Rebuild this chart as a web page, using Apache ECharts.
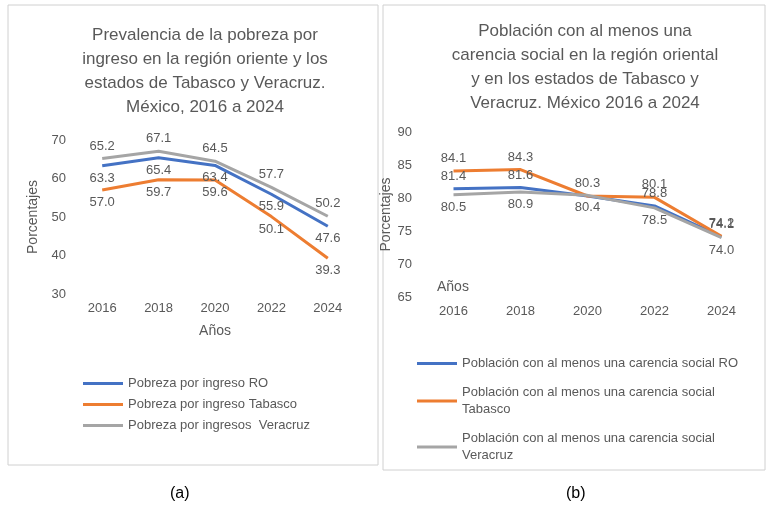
<!DOCTYPE html>
<html>
<head>
<meta charset="utf-8">
<script src="https://cdn.jsdelivr.net/npm/echarts@6/dist/echarts.min.js"></script>
<style>html,body{margin:0;background:#fff}#c{width:775px;height:510px}</style>
</head>
<body>
<div id="c"></div>
<script>
const years = ['2016', '2018', '2020', '2022', '2024'];
const pobreza = {
  ro: [63.3, 65.4, 63.4, 55.9, 47.6],
  tab: [57.0, 59.7, 59.6, 50.1, 39.3],
  ver: [65.2, 67.1, 64.5, 57.7, 50.2]
};
const carencia = {
  ro: [81.4, 81.6, 80.3, 78.8, 74.1],
  tab: [84.1, 84.3, 80.3, 80.1, 74.2],
  ver: [80.5, 80.9, 80.4, 78.5, 74.0]
};
const font = 'Liberation Sans';
const gray = '#595959';
const colors = { ro: '#4472C4', tab: '#ED7D31', ver: '#A5A5A5' };

function line(name, data, color, xi, pos, hideIdx) {
  return {
    name: name, type: 'line', xAxisIndex: xi, yAxisIndex: xi,
    data: data.map((v, i) => (hideIdx === i ? { value: v, label: { show: false } } : v)),
    showSymbol: true, symbol: 'circle', symbolSize: 0, lineStyle: { width: 3, color: color },
    itemStyle: { color: color },
    label: { show: true, position: pos, distance: 6, color: gray, fontSize: 13, fontFamily: font, formatter: p => p.value.toFixed(1) }
  };
}

const axisCommon = {
  axisLine: { show: false }, axisTick: { show: false },
  axisLabel: { color: gray, fontSize: 13, fontFamily: font },
  splitLine: { show: false }
};

const chart = echarts.init(document.getElementById('c'));
chart.setOption({
  animation: false,
  title: [
    { text: 'Prevalencia de la pobreza por\ningreso en la región oriente y los\nestados de Tabasco y Veracruz.\nMéxico, 2016 a 2024',
      left: 200, top: 18, textAlign: 'center',
      textStyle: { color: gray, fontSize: 17, fontWeight: 'normal', fontFamily: font, lineHeight: 24 } },
    { text: 'Población con al menos una\ncarencia social en la región oriental\ny en los estados de Tabasco y\nVeracruz. México 2016 a 2024',
      left: 580, top: 14, textAlign: 'center',
      textStyle: { color: gray, fontSize: 17, fontWeight: 'normal', fontFamily: font, lineHeight: 24 } }
  ],
  grid: [
    { left: 74, width: 282, top: 140, height: 154 },
    { left: 420, width: 335, top: 132, height: 165 }
  ],
  xAxis: [
    Object.assign({ type: 'category', data: years, gridIndex: 0, name: 'Años', nameLocation: 'middle', nameGap: 30,
      nameTextStyle: { color: gray, fontSize: 14, fontFamily: font } }, axisCommon),
    Object.assign({ type: 'category', data: years, gridIndex: 1 }, axisCommon)
  ],
  yAxis: [
    Object.assign({ type: 'value', gridIndex: 0, min: 30, max: 70, interval: 10, name: 'Porcentajes',
      nameLocation: 'middle', nameGap: 34, nameTextStyle: { color: gray, fontSize: 14, fontFamily: font } }, axisCommon),
    Object.assign({ type: 'value', gridIndex: 1, min: 65, max: 90, interval: 5, name: 'Porcentajes',
      nameLocation: 'middle', nameGap: 14, nameTextStyle: { color: gray, fontSize: 14, fontFamily: font } }, axisCommon)
  ],
  legend: [
    { orient: 'vertical', left: 78, top: 372, itemWidth: 40, itemHeight: 3, itemGap: 8, icon: 'rect',
      textStyle: { color: gray, fontSize: 13, fontFamily: font },
      data: ['Pobreza por ingreso RO', 'Pobreza por ingreso Tabasco', 'Pobreza por ingresos  Veracruz'] },
    { orient: 'vertical', left: 412, top: 350, itemWidth: 40, itemHeight: 3, itemGap: 12, icon: 'rect',
      textStyle: { color: gray, fontSize: 13, fontFamily: font, lineHeight: 17 },
      formatter: n => n.replace('Población con al menos una carencia social ', 'Población con al menos una carencia social\n').replace('\nRO', ' RO'),
      data: ['Población con al menos una carencia social RO', 'Población con al menos una carencia social Tabasco', 'Población con al menos una carencia social Veracruz'] }
  ],
  series: [
    line('Pobreza por ingreso RO', pobreza.ro, colors.ro, 0, 'bottom'),
    line('Pobreza por ingreso Tabasco', pobreza.tab, colors.tab, 0, 'bottom'),
    line('Pobreza por ingresos  Veracruz', pobreza.ver, colors.ver, 0, 'top'),
    line('Población con al menos una carencia social RO', carencia.ro, colors.ro, 1, 'top', 2),
    line('Población con al menos una carencia social Tabasco', carencia.tab, colors.tab, 1, 'top'),
    line('Población con al menos una carencia social Veracruz', carencia.ver, colors.ver, 1, 'bottom')
  ],
  graphic: [
    { type: 'rect', shape: { x: 8, y: 5, width: 370, height: 460 }, style: { fill: 'none', stroke: '#d0d0d0', lineWidth: 1 } },
    { type: 'rect', shape: { x: 383, y: 5, width: 382, height: 465 }, style: { fill: 'none', stroke: '#d0d0d0', lineWidth: 1 } },
    { type: 'text', left: 437, top: 280, style: { text: 'Años', fontSize: 14, fontFamily: font, fill: gray } },
    { type: 'text', left: 170, top: 486, style: { text: '(a)', fontSize: 16, fontFamily: font, fill: '#000' } },
    { type: 'text', left: 566, top: 486, style: { text: '(b)', fontSize: 16, fontFamily: font, fill: '#000' } }
  ]
});
</script>
</body>
</html>
